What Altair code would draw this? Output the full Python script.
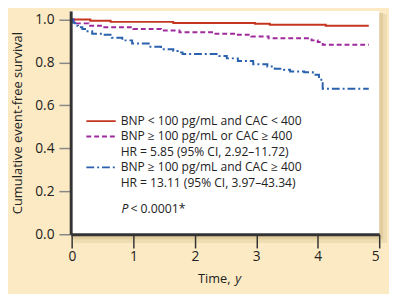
import altair as alt
import pandas as pd

# Kaplan-Meier step data (time in years, survival)
t_red = [0, 0.30, 0.63, 1.65, 2.98, 3.22, 4.13, 4.83]
s_red = [1.0, 0.994, 0.989, 0.984, 0.980, 0.976, 0.971, 0.971]

t_pur = [0, 0.03, 0.06, 0.27, 0.5, 1.0, 1.45, 1.75, 2.3, 2.7, 2.92, 3.2, 3.9, 4.0, 4.08, 4.83]
s_pur = [1.0, 0.99, 0.982, 0.971, 0.964, 0.956, 0.949, 0.941, 0.934, 0.929, 0.921, 0.913, 0.903, 0.895, 0.883, 0.883]

t_blu = [0, 0.02, 0.05, 0.1, 0.17, 0.23, 0.33, 0.5, 0.65, 0.82, 0.98, 1.25, 1.45, 1.65, 1.72, 1.8,
         2.4, 2.52, 2.7, 2.95, 3.18, 3.3, 3.45, 3.55, 3.78, 3.92, 4.02, 4.08, 4.83]
s_blu = [1.0, 0.985, 0.971, 0.964, 0.956, 0.945, 0.934, 0.929, 0.915, 0.903, 0.888, 0.873, 0.862, 0.853, 0.847, 0.839,
         0.830, 0.819, 0.807, 0.792, 0.781, 0.771, 0.766, 0.758, 0.754, 0.743, 0.720, 0.678, 0.678]

groups = ["low", "either", "both"]
colors = ["#C4341F", "#9E2A9C", "#2A62AE"]
dashes = [[1, 0], [5, 3], [8, 3, 2, 3]]

legend_lines = [
    "BNP < 100 pg/mL and CAC < 400",
    "BNP \u2265 100 pg/mL or CAC \u2265 400",
    "HR = 5.85 (95% CI, 2.92\u201311.72)",
    "BNP \u2265 100 pg/mL and CAC \u2265 400",
    "HR = 13.11 (95% CI, 3.97\u201343.34)",
]
y_ticks = [0, 0.2, 0.4, 0.6, 0.8, 1.0]
x_ticks = [0, 1, 2, 3, 4, 5]

rows = []
for g, ts, ss in zip(groups, [t_red, t_pur, t_blu], [s_red, s_pur, s_blu]):
    for t, s in zip(ts, ss):
        rows.append({"group": g, "t": t, "s": s})
df = pd.DataFrame(rows)

W, H = 315, 228
FONT = "Open Sans"
one = alt.Data(values=[{}])

xscale = alt.Scale(domain=[-0.02, 5.0], nice=False, zero=False)
yscale = alt.Scale(domain=[0, 1.04], nice=False)

shadow1 = alt.Chart(one).mark_rect(color="#eedcb2").encode(
    x=alt.value(3), x2=alt.value(W + 8), y=alt.value(3), y2=alt.value(H + 9))
shadow2 = alt.Chart(one).mark_rect(color="#e2cd9f").encode(
    x=alt.value(2), x2=alt.value(W + 4), y=alt.value(2), y2=alt.value(H + 5))
white = alt.Chart(one).mark_rect(color="white").encode(
    x=alt.value(0), x2=alt.value(W), y=alt.value(0), y2=alt.value(H))

lines = alt.Chart(df).mark_line(interpolate="step-after", strokeWidth=2).encode(
    x=alt.X("t:Q", scale=xscale,
            axis=alt.Axis(values=x_ticks, format="d", title=None, grid=False,
                          domainColor="#333", domainWidth=3, tickColor="#333",
                          tickWidth=1.5, tickSize=14, labelFontSize=14, labelFont=FONT,
                          labelColor="#222", labelPadding=2, zindex=1)),
    y=alt.Y("s:Q", scale=yscale,
            axis=alt.Axis(values=y_ticks, format=".1f", title="Cumulative event-free survival",
                          grid=False, domainColor="#333", domainWidth=3, tickColor="#888",
                          tickWidth=1.5, tickSize=12, labelFontSize=14, labelFont=FONT,
                          labelColor="#222", labelPadding=5, titleFontSize=13.2,
                          titleFont=FONT, titleFontWeight="normal", titleColor="#222",
                          titlePadding=11, zindex=1)),
    color=alt.Color("group:N", scale=alt.Scale(domain=groups, range=colors), legend=None),
    strokeDash=alt.StrokeDash("group:N", scale=alt.Scale(domain=groups, range=dashes), legend=None),
)

layers = [shadow1, shadow2, white, lines]

# legend
LX1, LX2, TX = 16, 46, 51
row_y = [112.5, 128.2, 144.0, 159.7, 175.8]
sample_rows = [(0, 0), (1, 1), (3, 2)]
for ri, gi in sample_rows:
    layers.append(alt.Chart(one).mark_rule(color=colors[gi], strokeWidth=2, strokeDash=dashes[gi]).encode(
        x=alt.value(LX1), x2=alt.value(LX2), y=alt.value(row_y[ri])))
for txt, yy in zip(legend_lines, row_y):
    layers.append(alt.Chart(one).mark_text(text=txt, align="left", baseline="middle",
                                           font=FONT, fontSize=12.3, color="#222").encode(
        x=alt.value(TX), y=alt.value(yy)))
layers.append(alt.Chart(one).mark_text(text="P", align="left", baseline="middle", font=FONT,
                                       fontSize=12.5, fontStyle="italic", color="#222").encode(
    x=alt.value(52), y=alt.value(202)))
layers.append(alt.Chart(one).mark_text(text="< 0.0001*", align="left", baseline="middle", font=FONT,
                                       fontSize=12.5, color="#222").encode(
    x=alt.value(61), y=alt.value(202)))
# x-axis title with italic y
layers.append(alt.Chart(one).mark_text(text="Time,", align="left", baseline="middle", font=FONT,
                                       fontSize=13, color="#222").encode(
    x=alt.value(130), y=alt.value(274)))
layers.append(alt.Chart(one).mark_text(text="y", align="left", baseline="middle", font=FONT,
                                       fontSize=13, fontStyle="italic", color="#222").encode(
    x=alt.value(168), y=alt.value(274)))

chart = alt.layer(*layers).properties(
    width=W, height=H,
    autosize=alt.AutoSizeParams(type="none"),
    padding={"left": 64, "top": 0, "right": 10, "bottom": 58},
    background="#FCEAC4",
).configure_view(stroke=None)

chart.save("out.html", embed_options={"renderer": "svg", "actions": False})
